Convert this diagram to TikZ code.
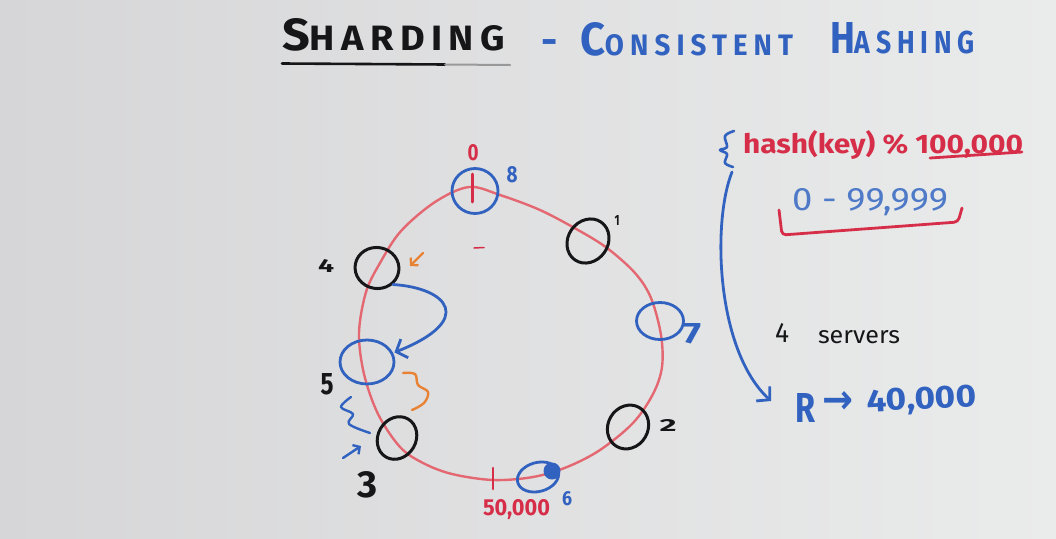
\documentclass[tikz,border=0pt]{standalone}
\usepackage{fontspec}
\usepackage{graphicx}
\setmainfont{Fira Sans}
\newfontfamily\arrowfont{DejaVu Sans}
\usetikzlibrary{shapes.geometric,arrows.meta,calc}

% marker colours
\definecolor{bgL}{RGB}{214,214,216}
\definecolor{bgR}{RGB}{234,235,235}
\definecolor{mblue}{RGB}{50,98,192}
\definecolor{mblueL}{RGB}{78,122,200}
\definecolor{mred}{RGB}{214,46,72}
\definecolor{ringred}{RGB}{228,104,114}
\definecolor{mblack}{RGB}{22,22,24}
\definecolor{morange}{RGB}{232,130,52}

% a text box forced to a given width and height (in pt)
\newcommand{\mkfit}[3]{\resizebox{#1pt}{#2pt}{#3}}

\tikzset{
  ring/.style={draw=ringred, line width=2.4pt},
  srvblack/.style={ellipse, draw=mblack, line width=3pt, inner sep=0pt},
  srvblue/.style={ellipse, draw=mblue, line width=2.8pt, inner sep=0pt},
  txt/.style={inner sep=0pt, outer sep=0pt},
  pen/.style={line cap=round, line join=round},
  barb/.style={-{Straight Barb[length=9pt,width=20pt]}},
  smallbarb/.style={-{Straight Barb[length=5pt,width=11pt]}},
}

\begin{document}
\begin{tikzpicture}[x=1pt,y=-1pt]
\useasboundingbox (0,0) rectangle (1056,538);
\shade[left color=bgL, right color=bgR] (0,0) rectangle (1056,538);

% ---------- title ----------
\node[txt, anchor=base west, text=mblack] (title1) at (282,50)
  {\mkfit{223}{32}{\bfseries\addfontfeature{LetterSpace=17}{\fontsize{32}{32}\selectfont S}{\fontsize{25}{25}\selectfont HARDING}}};
\draw[pen, mblack, line width=2.6pt] (282,63.5) -- (445,64.5);
\draw[pen, black!40, line width=2pt] (445,64.5) -- (510,65);
\node[txt, anchor=base, text=mblue, font=\fontsize{40}{40}\selectfont\bfseries] (dash) at (550,54) {-};
\node[txt, anchor=base west, text=mblue] (title2) at (580,55)
  {\mkfit{213}{33}{\bfseries\addfontfeature{LetterSpace=22}{\fontsize{33}{33}\selectfont C}{\fontsize{21}{21}\selectfont ONSISTENT}}};
\node[txt, anchor=base west, text=mblue] (title3) at (830,53)
  {\mkfit{145}{31}{\bfseries\addfontfeature{LetterSpace=22}{\fontsize{31}{31}\selectfont H}{\fontsize{22}{22}\selectfont ASHING}}};

% ---------- hash ring ----------
\draw[ring] plot[smooth cycle, tension=0.55] coordinates {
  (469,187) (500,195) (540,210) (578,230) (607,248) (635,273) (651,298)
  (661,335) (662,367) (653,394) (633,423) (600,450) (567,467) (533,477)
  (493,480) (452,474) (423,463) (400,447) (378,414) (364,374) (359,333)
  (366,292) (380,263) (401,231) (435,202)};

% ticks on the ring
\draw[pen, mred, line width=3pt] (472,174) -- (472,202);
\draw[pen, mred, line width=2.6pt] (493,468) -- (493,489);
\draw[pen, mred, line width=1.5pt] (474,248) -- (484,247.5);

% ---------- servers ----------
\node[srvblue, minimum width=46pt, minimum height=45pt] (s8) at (475,191) {};
\node[srvblack, minimum width=44pt, minimum height=41pt, rotate=-10] (s4) at (377,268) {};
\node[srvblack, minimum width=40pt, minimum height=46pt, rotate=-35] (s1) at (588,241) {};
\node[srvblue, minimum width=47pt, minimum height=37pt] (s7) at (660,321) {};
\node[srvblack, minimum width=40pt, minimum height=45pt, rotate=-30] (s2) at (628,427) {};
\node[srvblue, minimum width=42pt, minimum height=29pt, rotate=15] (s6) at (538,477) {};
\fill[mblue] (552,471) circle (8.5pt);
\node[srvblack, minimum width=38pt, minimum height=44pt, rotate=-30] (s3) at (397,438) {};
\node[srvblue, minimum width=54pt, minimum height=44pt] (s5) at (367,362) {};

% ---------- ring labels ----------
\node[txt, anchor=base, text=mred] (l0) at (473,160) {\mkfit{11}{16}{\bfseries 0}};
\node[txt, anchor=base, text=mblue] (l8) at (512,182) {\mkfit{11}{16}{\bfseries 8}};
\node[txt, anchor=base, text=mblack] (l4) at (326,272) {\mkfit{16}{13}{\bfseries 4}};
\node[txt, anchor=base, text=mblack] (l1) at (617,225) {\mkfit{5}{10}{\bfseries 1}};
\node[txt, anchor=base, text=mblue] (l7) at (692,343) {\mkfit{18}{20}{\bfseries 7}};
\node[txt, anchor=base, text=mblack] (l2) at (668,431) {\mkfit{17}{12}{\bfseries 2}};
\node[txt, anchor=base, text=mblue] (l6) at (567,505) {\mkfit{10}{14}{\bfseries 6}};
\node[txt, anchor=base west, text=mred] (l50) at (483,515) {\mkfit{67}{16}{\bfseries 50,000}};
\node[txt, anchor=base, text=mblack] (l3) at (367,497) {\mkfit{20}{26}{\bfseries 3}};
\node[txt, anchor=base, text=mblack] (l5) at (327,394) {\mkfit{13}{21}{\bfseries 5}};

% ---------- moves and marks around the ring ----------
\draw[pen, mblue, line width=2.8pt, barb]
  (s4.-36) .. controls (448,288) and (476,320) .. ([shift={(1,-1)}]s5.18);
\coordinate (oa1) at (423,253);
\coordinate (oa2) at (410,266);
\draw[pen, morange, line width=2.2pt, smallbarb] (oa1) -- (oa2);
\coordinate (ba1) at (343,458);
\coordinate (ba2) at (361,446);
\draw[pen, mblue, line width=2.4pt, smallbarb] (ba1) -- (ba2);
\draw[pen, morange, line width=2.4pt] plot[smooth, tension=0.6] coordinates
  {(403,373) (415,374) (418,385) (428,392) (424,403) (412,410)};
\draw[pen, mblue, line width=2.4pt] plot[smooth, tension=0.6] coordinates
  {(351,397) (341,407) (353,414) (349,424) (370,433)};

% ---------- right column ----------
\draw[pen, mblue, line width=2.6pt] plot[smooth, tension=0.6] coordinates
  {(734,131) (725,136) (727,147) (720,150) (727,154) (725,163) (733,167)};
\node[txt, anchor=base west, text=mred] (hash) at (743,153)
  {\mkfit{280}{23}{\bfseries hash(key) \% 100,000}};
\draw[pen, mred, line width=2.8pt] (930,158) -- (1022,152);
\node[txt, anchor=base west, text=mblueL] (range) at (792,210)
  {\mkfit{156}{22}{0 - 99,999}};
\draw[pen, mred, line width=2.8pt, rounded corners=4pt]
  (779,210) -- (782,235) -- (958,222) -- (962,208);
\node[txt, anchor=base west, text=mblack] (n4) at (775,342) {\mkfit{14}{19}{4}};
\node[txt, anchor=base west, text=mblack] (srv) at (818,343) {\mkfit{82}{13}{servers}};

\coordinate (brc) at (732,172);
\coordinate (rin) at (771,401);
\draw[pen, mblue, line width=2.8pt, barb] (brc) .. controls (712,222) and (716,350) .. (rin);
\node[txt, anchor=base west, text=mblue] (R) at (795,422) {\mkfit{20}{29}{\bfseries R}};
\node[txt, text=mblue] (rarr) at (838,402) {\mkfit{31}{22}{\arrowfont\bfseries →}};
\node[txt, anchor=base west, text=mblue, rotate=3] (val) at (867,412) {\mkfit{110}{22}{\bfseries 40,000}};
\end{tikzpicture}
\end{document}
